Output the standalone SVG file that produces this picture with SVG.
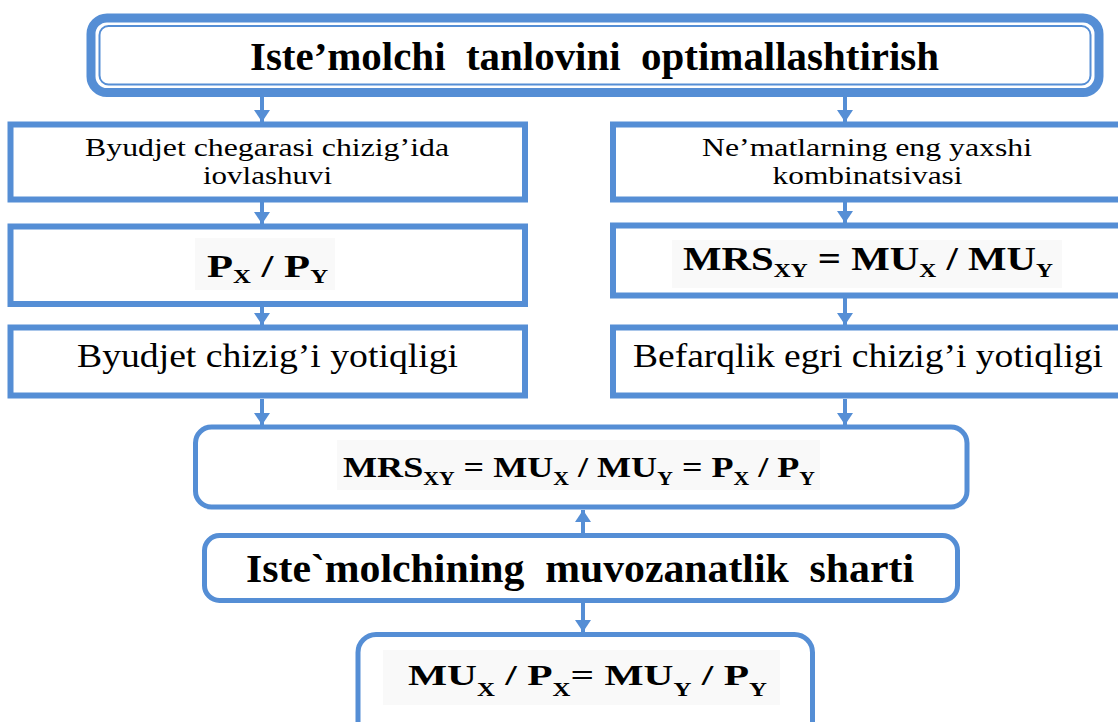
<svg xmlns="http://www.w3.org/2000/svg" width="1118" height="722" viewBox="0 0 1118 722">
<defs>
<marker id="ah" markerUnits="userSpaceOnUse" markerWidth="12" markerHeight="16" viewBox="0 0 12 16" refX="12" refY="8" orient="auto"><path d="M0,0 L12,8 L0,16 z" fill="#558ED5"/></marker>
</defs>
<style>
.box{fill:#fff;stroke:#558ED5;stroke-width:6}
.rbox{fill:#fff;stroke:#558ED5;stroke-width:5}
#connectors line{stroke:#558ED5;stroke-width:4;marker-end:url(#ah)}
text{font-family:"Liberation Serif","Times New Roman",serif;fill:#000}
.b{font-weight:bold}
.fbg{fill:#f9f9f9}
</style>
<rect width="1118" height="722" fill="#fff"/>

<g id="connectors">
<line x1="262" y1="97" x2="262" y2="122"/>
<line x1="262" y1="202" x2="262" y2="224"/>
<line x1="262" y1="307" x2="262" y2="325"/>
<line x1="262" y1="399" x2="262" y2="425"/>
<line x1="845" y1="97" x2="845" y2="122"/>
<line x1="845" y1="202" x2="845" y2="223"/>
<line x1="845" y1="298" x2="845" y2="325"/>
<line x1="845" y1="399" x2="845" y2="425"/>
<line x1="583" y1="533" x2="583" y2="510"/>
<line x1="583" y1="603" x2="583" y2="632"/>
</g>

<g id="n-title">
<rect x="91" y="18" width="1008" height="74.5" rx="16" fill="#fff" stroke="#558ED5" stroke-width="9"/>
<rect x="99.5" y="26" width="991" height="58.5" rx="9" fill="none" stroke="#558ED5" stroke-width="2"/>
<text x="594.5" y="70" class="b" font-size="40" text-anchor="middle" textLength="689" lengthAdjust="spacingAndGlyphs" style="white-space:pre">Iste’molchi  tanlovini  optimallashtirish</text>
</g>

<g id="n-l1">
<rect class="box" x="10.5" y="124.5" width="514.5" height="75"/>
<text x="267" y="156" font-size="25" text-anchor="middle" textLength="364" lengthAdjust="spacingAndGlyphs">Byudjet chegarasi chizig’ida</text>
<text x="267.5" y="184" font-size="25" text-anchor="middle" textLength="129" lengthAdjust="spacingAndGlyphs">iovlashuvi</text>
</g>

<g id="n-l2">
<rect class="box" x="10.5" y="226.5" width="514.5" height="77.5"/>
<rect class="fbg" x="195" y="238" width="140" height="52"/>
<text x="267.5" y="277" class="b" font-size="31" text-anchor="middle" textLength="121" lengthAdjust="spacingAndGlyphs">P<tspan font-size="18" dy="6">X</tspan><tspan dy="-6"> / P</tspan><tspan font-size="18" dy="6">Y</tspan></text>
</g>

<g id="n-l3">
<rect class="box" x="10.5" y="327.5" width="514.5" height="68"/>
<text x="267.5" y="367" font-size="33" text-anchor="middle" textLength="381" lengthAdjust="spacingAndGlyphs">Byudjet chizig’i yotiqligi</text>
</g>

<g id="n-r1">
<rect class="box" x="613" y="124.5" width="520" height="75"/>
<text x="867" y="156" font-size="25" text-anchor="middle" textLength="330" lengthAdjust="spacingAndGlyphs">Ne’matlarning eng yaxshi</text>
<text x="867.5" y="184" font-size="25" text-anchor="middle" textLength="190" lengthAdjust="spacingAndGlyphs">kombinatsivasi</text>
</g>

<g id="n-r2">
<rect class="box" x="613" y="225.5" width="520" height="70"/>
<rect class="fbg" x="672" y="240" width="390" height="48"/>
<text x="868" y="270" class="b" font-size="33" text-anchor="middle" textLength="370" lengthAdjust="spacingAndGlyphs">MRS<tspan font-size="19" dy="7">XY</tspan><tspan dy="-7"> = MU</tspan><tspan font-size="19" dy="7">X</tspan><tspan dy="-7"> / MU</tspan><tspan font-size="19" dy="7">Y</tspan></text>
</g>

<g id="n-r3">
<rect class="box" x="613" y="327.5" width="520" height="68"/>
<text x="868" y="367" font-size="33" text-anchor="middle" textLength="470" lengthAdjust="spacingAndGlyphs">Befarqlik egri chizig’i yotiqligi</text>
</g>

<g id="n-mid">
<rect class="rbox" x="195.5" y="427" width="771.5" height="80" rx="16"/>
<rect class="fbg" x="337" y="440" width="483" height="50"/>
<text x="579" y="477" class="b" font-size="30" text-anchor="middle" textLength="472" lengthAdjust="spacingAndGlyphs">MRS<tspan font-size="18" dy="8">XY</tspan><tspan dy="-8"> = MU</tspan><tspan font-size="18" dy="8">X</tspan><tspan dy="-8"> / MU</tspan><tspan font-size="18" dy="8">Y</tspan><tspan dy="-8"> = P</tspan><tspan font-size="18" dy="8">X</tspan><tspan dy="-8"> / P</tspan><tspan font-size="18" dy="8">Y</tspan></text>
</g>

<g id="n-eq">
<rect class="rbox" x="204.5" y="535.5" width="753" height="65" rx="15"/>
<text x="580" y="582" class="b" font-size="40" text-anchor="middle" textLength="668" lengthAdjust="spacingAndGlyphs" style="white-space:pre">Iste`molchining  muvozanatlik  sharti</text>
</g>

<g id="n-bottom">
<rect class="rbox" x="358" y="634.5" width="454.5" height="110" rx="18"/>
<rect class="fbg" x="383" y="650" width="397" height="55"/>
<text x="587.5" y="685" class="b" font-size="30" text-anchor="middle" textLength="359" lengthAdjust="spacingAndGlyphs">MU<tspan font-size="18" dy="11">X</tspan><tspan dy="-11"> / P</tspan><tspan font-size="18" dy="11">X</tspan><tspan dy="-11">= MU</tspan><tspan font-size="18" dy="11">Y</tspan><tspan dy="-11"> / P</tspan><tspan font-size="18" dy="11">Y</tspan></text>
</g>
</svg>
